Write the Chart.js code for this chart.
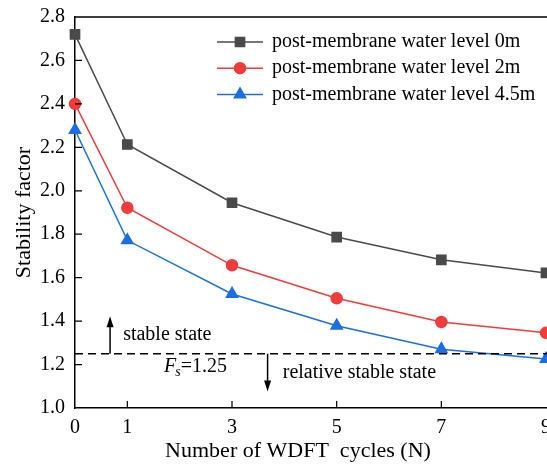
<!DOCTYPE html>
<html>
<head>
<meta charset="utf-8">
<script src="https://cdn.jsdelivr.net/npm/chart.js@4.4.1/dist/chart.umd.min.js"></script>
<style>
  html, body { margin: 0; padding: 0; background: #ffffff; }
  #wrap { width: 547px; height: 465px; }
</style>
</head>
<body>
<div id="wrap"><canvas id="lineChart" width="547" height="465"></canvas></div>
<script>
// WDFT cycles on the x axis
const cycles = [0, 1, 3, 5, 7, 9];
const xTicks = [0, 1, 3, 5, 7, 9];
const yTicks = [1.0, 1.2, 1.4, 1.6, 1.8, 2.0, 2.2, 2.4, 2.6, 2.8];

const seriesNames = [
  'post-membrane water level 0m',
  'post-membrane water level 2m',
  'post-membrane water level 4.5m'
];
const level0m = [2.72, 2.213, 1.945, 1.787, 1.682, 1.622];
const level2m = [2.40, 1.922, 1.657, 1.505, 1.396, 1.346];
const level45m = [2.28, 1.772, 1.525, 1.379, 1.271, 1.226];

const fsLimit = 1.25;

const serif = '"Liberation Serif", "Times New Roman", serif';
const colors = ['#4a4a4a', '#f23c3c', '#1b6fe3'];
const markers = ['rect', 'circle', 'triangle'];
const markerSize = [6.5, 5.5, 6.5];

function toPoints(vals) {
  return vals.map((v, i) => ({ x: cycles[i], y: v }));
}

const datasets = [level0m, level2m, level45m].map((vals, i) => ({
  label: seriesNames[i],
  data: toPoints(vals),
  borderColor: colors[i],
  backgroundColor: colors[i],
  pointBackgroundColor: colors[i],
  pointBorderColor: colors[i],
  pointStyle: markers[i],
  pointRadius: markerSize[i],
  borderWidth: 1.5,
  clip: false,
  tension: 0
}));

// inward ticks, x labels, top frame, Fs line, arrows, notes, legend and x title
const extras = {
  id: 'extras',
  afterDraw(chart) {
    const ctx = chart.ctx;
    const xs = chart.scales.x, ys = chart.scales.y;
    const area = chart.chartArea;
    ctx.save();

    ctx.strokeStyle = '#000';
    ctx.lineWidth = 1.5;
    ctx.beginPath();
    ctx.moveTo(area.left, area.top);
    ctx.lineTo(chart.width, area.top);
    ctx.stroke();

    ctx.lineWidth = 1.2;
    ctx.beginPath();
    xTicks.forEach(t => {
      if (t === 0 || t === 9) return;
      const px = xs.getPixelForValue(t);
      ctx.moveTo(px, area.bottom);
      ctx.lineTo(px, area.bottom - 7);
    });
    yTicks.forEach(t => {
      if (t === 1.0 || t === 2.8) return;
      const py = ys.getPixelForValue(t);
      ctx.moveTo(area.left, py);
      ctx.lineTo(area.left + 7, py);
    });
    ctx.stroke();

    // x tick labels (the last one runs off the right edge)
    ctx.fillStyle = '#000';
    ctx.textAlign = 'center';
    ctx.textBaseline = 'middle';
    ctx.font = '20px ' + serif;
    xTicks.forEach(t => {
      ctx.fillText(String(t), xs.getPixelForValue(t), area.bottom + 20);
    });

    // Fs = 1.25 threshold
    const fy = ys.getPixelForValue(fsLimit);
    ctx.setLineDash([8, 5]);
    ctx.lineWidth = 1.5;
    ctx.beginPath();
    ctx.moveTo(area.left, fy);
    ctx.lineTo(chart.width, fy);
    ctx.stroke();
    ctx.setLineDash([]);

    function arrow(xv, y0, y1) {
      const px = xs.getPixelForValue(xv);
      const p0 = ys.getPixelForValue(y0), p1 = ys.getPixelForValue(y1);
      const dir = p1 < p0 ? 1 : -1;
      ctx.lineWidth = 1.5;
      ctx.beginPath();
      ctx.moveTo(px, p0);
      ctx.lineTo(px, p1 + dir * 8);
      ctx.stroke();
      ctx.beginPath();
      ctx.moveTo(px, p1);
      ctx.lineTo(px - 3.5, p1 + dir * 11);
      ctx.lineTo(px + 3.5, p1 + dir * 11);
      ctx.closePath();
      ctx.fillStyle = '#000';
      ctx.fill();
    }
    arrow(0.67, fsLimit, 1.422);
    arrow(3.68, fsLimit, 1.076);

    ctx.fillStyle = '#000';
    ctx.textAlign = 'left';
    ctx.font = '20px ' + serif;
    ctx.fillText('stable state', xs.getPixelForValue(0.92), ys.getPixelForValue(1.335));
    ctx.fillText('relative stable state', xs.getPixelForValue(3.97), ys.getPixelForValue(1.16));

    const fx = xs.getPixelForValue(1.7), fyy = ys.getPixelForValue(1.19);
    ctx.font = 'italic 20px ' + serif;
    ctx.fillText('F', fx, fyy);
    let w = ctx.measureText('F').width;
    ctx.font = 'italic 14px ' + serif;
    ctx.fillText('s', fx + w - 1, fyy + 6);
    w += ctx.measureText('s').width - 1;
    ctx.font = '20px ' + serif;
    ctx.fillText('=1.25', fx + w, fyy);

    // legend
    const lx = 217, ly = 42, row = 26.2;
    chart.data.datasets.forEach((ds, i) => {
      const y = ly + i * row;
      ctx.strokeStyle = ds.borderColor;
      ctx.lineWidth = 1.5;
      ctx.beginPath();
      ctx.moveTo(lx, y);
      ctx.lineTo(lx + 46, y);
      ctx.stroke();
      Chart.helpers.drawPoint(ctx, {
        pointStyle: ds.pointStyle,
        radius: ds.pointRadius,
        borderWidth: 1,
        rotation: 0
      }, lx + 23, y);
      ctx.fillStyle = ds.backgroundColor;
      ctx.strokeStyle = ds.borderColor;
      ctx.fill();
      ctx.fillStyle = '#000';
      ctx.font = '20px ' + serif;
      ctx.fillText(ds.label, lx + 55, y);
    });

    // x axis title
    ctx.textAlign = 'center';
    ctx.font = '22px ' + serif;
    ctx.fillText('Number of WDFT  cycles (N)', 298, 451);

    ctx.restore();
  }
};

new Chart(document.getElementById('lineChart'), {
  type: 'line',
  data: { datasets: datasets },
  options: {
    responsive: false,
    animation: false,
    layout: { autoPadding: false, padding: { top: 17, right: 1, left: 0, bottom: 0 } },
    plugins: {
      legend: { display: false },
      tooltip: { enabled: false }
    },
    scales: {
      x: {
        type: 'linear',
        min: 0,
        max: 9,
        afterBuildTicks: s => { s.ticks = xTicks.map(v => ({ value: v })); },
        afterFit: s => { s.height = 57; },
        grid: { display: false, drawTicks: false },
        border: { display: true, color: '#000', width: 1.5 },
        ticks: { display: false },
        title: { display: false }
      },
      y: {
        min: 1.0,
        max: 2.8,
        afterBuildTicks: s => { s.ticks = yTicks.map(v => ({ value: v })); },
        afterFit: s => { s.width = 75; s.paddingTop = 0; s.paddingBottom = 0; },
        grid: { display: false, drawTicks: false },
        border: { display: true, color: '#000', width: 1.5 },
        ticks: {
          color: '#000',
          padding: 10,
          font: { family: serif, size: 20 },
          callback: v => v.toFixed(1)
        },
        title: {
          display: true,
          text: 'Stability factor',
          color: '#000',
          padding: { top: 11, bottom: 0 },
          font: { family: serif, size: 22 }
        }
      }
    }
  },
  plugins: [extras]
});
</script>
</body>
</html>
